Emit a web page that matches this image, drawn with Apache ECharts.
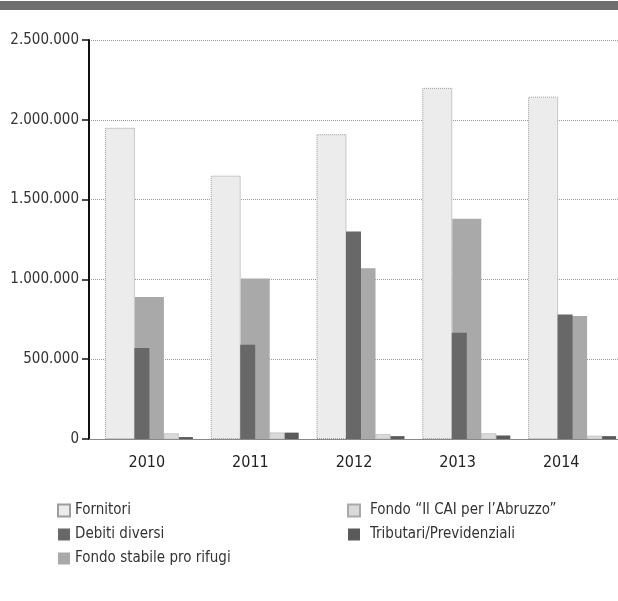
<!DOCTYPE html>
<html>
<head>
<meta charset="utf-8">
<script src="https://cdn.jsdelivr.net/npm/echarts@6/dist/echarts.min.js"></script>
<style>
html,body{margin:0;padding:0;background:#fff;}
#chart{width:618px;height:601px;}
</style>
</head>
<body>
<div id="chart"></div>
<script>
// ---- data ----
const years = ['2010', '2011', '2012', '2013', '2014'];
const fornitori = [1950000, 1650000, 1910000, 2200000, 2145000];
const debitiDiversi = [570000, 590000, 1300000, 665000, 780000];
const fondoStabile = [890000, 1005000, 1070000, 1380000, 770000];
const fondoCAI = [35000, 40000, 30000, 35000, 20000];
const tributari = [12000, 40000, 18000, 22000, 18000];
const seriesNames = ['Fornitori', 'Debiti diversi', 'Fondo stabile pro rifugi',
  'Fondo “Il CAI per l’Abruzzo”', 'Tributari/Previdenziali'];
const yMax = 2500000;
const yStep = 500000;

const FONT = '"Liberation Sans Narrow", "DejaVu Sans Condensed", "Liberation Sans", sans-serif';
function fmt(v) { return String(v).replace(/\B(?=(\d{3})+(?!\d))/g, '.'); }

const chart = echarts.init(document.getElementById('chart'), null, {renderer: 'canvas'});
const valueAxisBase = {type: 'value', min: 0, max: yMax, interval: yStep};

chart.setOption({
  animation: false,
  backgroundColor: '#fff',
  graphic: [{type: 'rect', shape: {x: 0, y: 1, width: 618, height: 9}, style: {fill: '#6e6e6e'}, z: 0}],
  grid: [
    {left: 89, top: 40, width: 529, height: 399, outerBoundsMode: 'none'},
    {left: 96, top: 40, width: 529, height: 399, outerBoundsMode: 'none'},
    {left: 95, top: 40, width: 518, height: 399, outerBoundsMode: 'none'}
  ],
  xAxis: [
    {type: 'category', gridIndex: 0, data: years,
     axisLine: {show: true, lineStyle: {color: '#888', width: 1}}, axisTick: {show: false}, axisLabel: {show: false}},
    {type: 'category', gridIndex: 1, data: years, show: false},
    {type: 'category', gridIndex: 2, data: years,
     axisLine: {show: false}, axisTick: {show: false},
     axisLabel: {show: true, margin: 16, fontFamily: FONT, fontSize: 16, color: '#222'}}
  ],
  yAxis: [
    Object.assign({}, valueAxisBase, {gridIndex: 0,
      axisLine: {show: true, lineStyle: {color: '#111', width: 2}},
      axisTick: {show: true, length: 7, lineStyle: {color: '#111', width: 1.5}},
      axisLabel: {margin: 10, fontFamily: FONT, fontSize: 15, color: '#333', formatter: fmt},
      splitLine: {show: true, lineStyle: {color: '#999', type: 'dotted', width: 1}}}),
    Object.assign({}, valueAxisBase, {gridIndex: 1, show: false, splitLine: {show: false}}),
    Object.assign({}, valueAxisBase, {gridIndex: 2, show: false, splitLine: {show: false}})
  ],
  legend: [
    {orient: 'vertical', left: 52, top: 497, itemWidth: 12, itemHeight: 12, itemGap: 7, icon: 'rect',
     data: [seriesNames[0], seriesNames[1], seriesNames[2]],
     textStyle: {fontFamily: FONT, fontSize: 15, color: '#333', lineHeight: 17, padding: [0, 0, 0, 0]}},
    {orient: 'vertical', left: 342, top: 497, itemWidth: 12, itemHeight: 12, itemGap: 7, icon: 'rect',
     data: [seriesNames[3], seriesNames[4]],
     textStyle: {fontFamily: FONT, fontSize: 15, color: '#333', lineHeight: 17, padding: [0, 0, 0, 5]}}
  ],
  series: [
    {name: seriesNames[0], type: 'bar', xAxisIndex: 1, yAxisIndex: 1, data: fornitori, barWidth: 30, barGap: '0%',
     itemStyle: {color: '#ececec', borderColor: '#9c9c9c', borderWidth: 1, borderType: 'dotted'}},
    {name: seriesNames[2], type: 'bar', xAxisIndex: 1, yAxisIndex: 1, data: fondoStabile, barWidth: 29, barGap: '0%',
     itemStyle: {color: '#a9a9a9'}},
    {name: seriesNames[3], type: 'bar', xAxisIndex: 1, yAxisIndex: 1, data: fondoCAI, barWidth: 15, barGap: '0%',
     itemStyle: {color: '#dadada', borderColor: '#aaa', borderWidth: 0.5}},
    {name: seriesNames[4], type: 'bar', xAxisIndex: 1, yAxisIndex: 1, data: tributari, barWidth: 14, barGap: '0%',
     itemStyle: {color: '#5a5a5a'}},
    {name: seriesNames[1], type: 'bar', xAxisIndex: 0, yAxisIndex: 0, data: debitiDiversi, barWidth: 15, z: 3,
     itemStyle: {color: '#686868'}}
  ]
});
</script>
</body>
</html>
